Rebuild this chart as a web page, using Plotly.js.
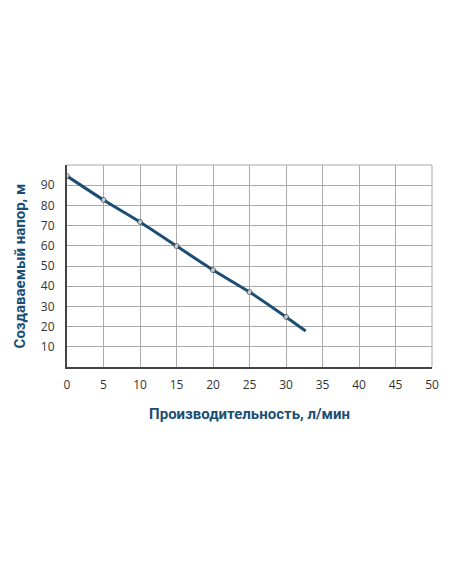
<!DOCTYPE html>
<html>
<head>
<meta charset="utf-8">
<script src="https://cdn.plot.ly/plotly-3.0.1.min.js"></script>
<style>
  html, body { margin: 0; padding: 0; background: #fff; }
  #chart { width: 452px; height: 584px; }
</style>
</head>
<body>
<div id="chart"></div>
<script>
// pump curve: flow (l/min) vs head (m)
var flow = [0, 5, 10, 15, 20, 25, 30, 32.7];
var head = [94.5, 82.7, 71.8, 59.9, 48, 37.1, 24.8, 17.8];
var pointSizes = [5, 5, 5, 5, 5, 5, 5, 0];

var xTicks = [0, 5, 10, 15, 20, 25, 30, 35, 40, 45, 50];
var yTicks = [0, 10, 20, 30, 40, 50, 60, 70, 80, 90, 100];
var yLabels = ['', '10', '20', '30', '40', '50', '60', '70', '80', '90', ''];

var blue = '#1b4e73';

var data = [{
  x: flow,
  y: head,
  type: 'scatter',
  mode: 'lines+markers',
  line: { color: blue, width: 3, shape: 'spline', smoothing: 0.6 },
  marker: { size: pointSizes, color: '#ffffff', line: { color: '#333333', width: 1 } },
  hoverinfo: 'skip'
}];

var layout = {
  width: 452,
  height: 584,
  margin: { l: 67, r: 20, t: 165, b: 217 },
  paper_bgcolor: '#ffffff',
  plot_bgcolor: '#ffffff',
  showlegend: false,
  font: { family: 'Open Sans, sans-serif', size: 12, color: '#333333' },
  xaxis: {
    range: [0, 50],
    tickvals: xTicks,
    ticktext: xTicks.map(String),
    showgrid: true,
    gridcolor: '#aaaaaa',
    gridwidth: 1,
    zeroline: false,
    showline: true,
    linecolor: '#444444',
    linewidth: 2,
    ticks: '',
    ticklabelstandoff: 6,
    fixedrange: true,
    title: {
      text: 'Производительность, л/мин',
      font: { family: 'Roboto, sans-serif', size: 15, color: blue, weight: 'bold' },
      standoff: 16
    }
  },
  yaxis: {
    range: [0, 100],
    tickvals: yTicks,
    ticktext: yLabels,
    showgrid: true,
    gridcolor: '#aaaaaa',
    gridwidth: 1,
    zeroline: false,
    showline: true,
    linecolor: '#444444',
    linewidth: 2,
    ticks: '',
    ticklabelstandoff: 8,
    fixedrange: true,
    title: {
      text: 'Создаваемый напор, м',
      font: { family: 'Roboto, sans-serif', size: 15, color: blue, weight: 'bold' },
      standoff: 12
    }
  },
  shapes: [
    { type: 'line', xref: 'paper', yref: 'paper', x0: 0, x1: 1, y0: 1, y1: 1, line: { color: '#aaaaaa', width: 1 } },
    { type: 'line', xref: 'paper', yref: 'paper', x0: 1, x1: 1, y0: 0, y1: 1, line: { color: '#aaaaaa', width: 1 } }
  ]
};

Plotly.newPlot('chart', data, layout, { displayModeBar: false, staticPlot: true });
</script>
</body>
</html>
